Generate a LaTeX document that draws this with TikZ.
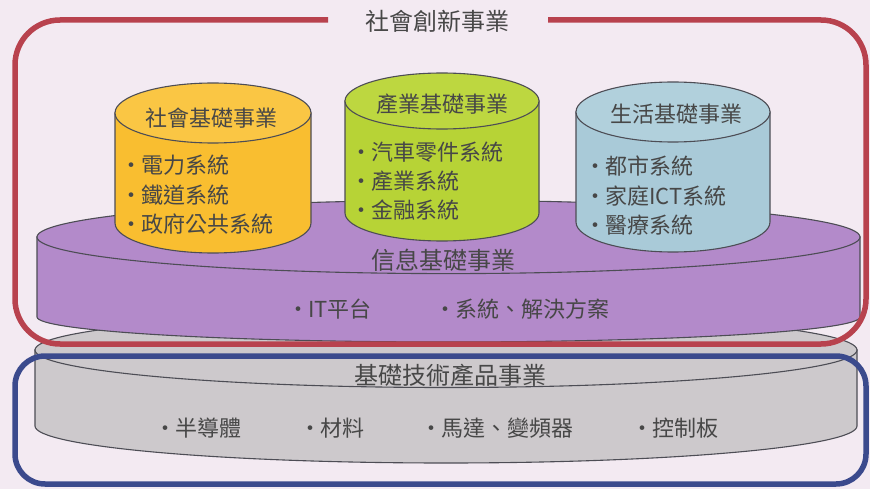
\documentclass[tikz,border=0pt]{standalone}
\usepackage{fontspec}
\setmainfont{Noto Sans CJK TC}
\definecolor{bgc}{HTML}{F3EAF2}
\definecolor{redf}{HTML}{B8424E}
\definecolor{bluef}{HTML}{3B4A8D}
\definecolor{purp}{HTML}{B38ACA}
\definecolor{grayd}{HTML}{CDC9CC}
\definecolor{yel}{HTML}{F9BE30}
\definecolor{yelt}{HTML}{FAC644}
\definecolor{grn}{HTML}{B7D336}
\definecolor{grnt}{HTML}{BDD740}
\definecolor{lbl}{HTML}{A9CAD8}
\definecolor{lblt}{HTML}{B1D0DC}
\definecolor{outl}{HTML}{4D4D55}
\definecolor{txtc}{HTML}{474747}
\tikzset{
  edge/.style={draw=outl, line width=1.1pt},
  frame/.style={line width=5.5pt},
  txt/.style={inner sep=0pt, text=txtc},
  bigt/.style={txt, font=\fontsize{24}{24}\selectfont},
  cylt/.style={txt, font=\fontsize{22}{22}\selectfont},
  item/.style={txt, anchor=west, font=\fontsize{22}{22}\selectfont},
}
\newcommand\bul{\rlap{·}\hspace{21pt}}
% cx, rx, ytop, ybot, ry top, ry bottom, body colour, top colour
\newcommand\drawcyl[8]{%
  \path[fill=#7, edge] (#1-#2,#3) -- (#1-#2,#4)
    arc[start angle=180, end angle=0, x radius=#2, y radius=#6]
    -- (#1+#2,#3) -- cycle;
  \path[fill=#8, edge] (#1,#3) ellipse[x radius=#2, y radius=#5];
}
\begin{document}
\begin{tikzpicture}[x=1pt,y=-1pt]
\fill[bgc] (0,0) rectangle (870,489);
\useasboundingbox (0,0) rectangle (870,489);

% base discs
\drawcyl{446}{411}{350}{426}{37.5}{37}{grayd}{grayd}
\drawcyl{448.5}{411.5}{237}{317}{36.6}{25}{purp}{purp}

% cylinders
\drawcyl{213}{98}{113}{223}{30}{30}{yel}{yelt}
\drawcyl{442}{97}{101}{213}{28}{28}{grn}{grnt}
\drawcyl{673}{97}{112}{222}{30}{30}{lbl}{lblt}

% frames
\draw[frame, redf, rounded corners=45] (328,20) -- (15,20) -- (15,344) -- (866,344) -- (866,20) -- (548,20);
\draw[frame, bluef, rounded corners=30] (15,356) rectangle (866,484);

% texts
\node[bigt] (t0) at (437,21) {社會創新事業};

\node[cylt] (ya) at (211,118) {社會基礎事業};
\node[item] (y1) at (120,165) {\bul 電力系統};
\node[item] (y2) at (120,195) {\bul 鐵道系統};
\node[item] (y3) at (120,224) {\bul 政府公共系統};

\node[cylt] (ga) at (442,104) {產業基礎事業};
\node[item] (g1) at (350,152) {\bul 汽車零件系統};
\node[item] (g2) at (350,181) {\bul 產業系統};
\node[item] (g3) at (350,210) {\bul 金融系統};

\node[cylt] (ba) at (676,114) {生活基礎事業};
\node[item] (b1) at (584,166) {\bul 都市系統};
\node[item] (b2) at (584,196) {\bul 家庭ICT系統};
\node[item] (b3) at (584,225) {\bul 醫療系統};

\node[bigt] (pa) at (443,260) {信息基礎事業};
\node[item] (p1) at (287,309) {\bul IT平台};
\node[item] (p2) at (434,309) {\bul 系統、解決方案};

\node[bigt] (ca) at (450,375) {基礎技術產品事業};
\node[item] (c1) at (154,428) {\bul 半導體};
\node[item] (c2) at (299,428) {\bul 材料};
\node[item] (c3) at (420,428) {\bul 馬達、變頻器};
\node[item] (c4) at (631,428) {\bul 控制板};
\end{tikzpicture}
\end{document}
